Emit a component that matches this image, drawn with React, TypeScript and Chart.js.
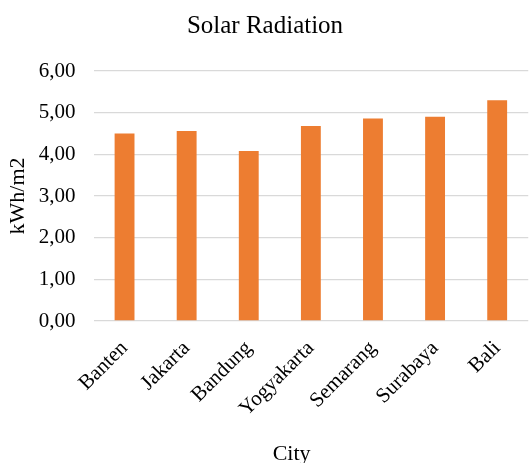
import React, { useEffect, useRef } from "react";
import { Chart, registerables } from "chart.js";

Chart.register(...registerables);

const cities = ["Banten", "Jakarta", "Bandung", "Yogyakarta", "Semarang", "Surabaya", "Bali"];
const radiation = [4.5, 4.56, 4.08, 4.68, 4.86, 4.9, 5.3];
const yTickLabels = ["0,00", "1,00", "2,00", "3,00", "4,00", "5,00", "6,00"];

const FONT = "'Liberation Serif', 'Times New Roman', serif";

export default function App() {
  const ref = useRef<HTMLCanvasElement | null>(null);

  useEffect(() => {
    if (!ref.current) return;
    const chart = new Chart(ref.current, {
      type: "bar",
      data: {
        labels: cities,
        datasets: [
          {
            label: "Solar Radiation",
            data: radiation,
            backgroundColor: "#ED7D31",
            borderWidth: 0,
            categoryPercentage: 1,
            barPercentage: 0.32,
          },
        ],
      },
      options: {
        responsive: false,
        animation: false,
        layout: { padding: { left: 0, right: 0, top: 0, bottom: 0 } },
        plugins: {
          legend: { display: false },
          tooltip: { enabled: false },
          title: {
            display: true,
            text: "Solar Radiation",
            color: "#000",
            font: { family: FONT, size: 25, weight: "normal" },
            padding: { top: 11, bottom: 30 },
          },
        },
        scales: {
          x: {
            grid: { display: false, drawTicks: false },
            border: { display: false },
            ticks: {
              color: "#000",
              font: { family: FONT, size: 21 },
              maxRotation: 45,
              minRotation: 45,
              padding: 15,
            },
            title: {
              display: true,
              text: "City" + "\u00a0".repeat(7),
              color: "#000",
              font: { family: FONT, size: 22 },
              padding: { top: 0, bottom: -4 },
            },
            afterFit: (scale: any) => {
              scale.height = 142;
            },
          },
          y: {
            min: 0,
            max: 6,
            grid: { color: "#d9d9d9", lineWidth: 1.3, drawTicks: false },
            border: { display: false },
            ticks: {
              stepSize: 1,
              color: "#000",
              font: { family: FONT, size: 21 },
              padding: 18,
              callback: (_v: any, i: number) => yTickLabels[i],
            },
            title: {
              display: true,
              text: "kWh/m2",
              color: "#000",
              font: { family: FONT, size: 22 },
              padding: { top: 5, bottom: 0 },
            },
            afterFit: (scale: any) => {
              scale.width = 93.5;
            },
          },
        },
      },
    });
    return () => chart.destroy();
  }, []);

  return (
    <div style={{ position: "fixed", left: 0, top: 0, width: 530, height: 463, background: "#fff" }}>
      <canvas ref={ref} width={530} height={463} />
    </div>
  );
}
